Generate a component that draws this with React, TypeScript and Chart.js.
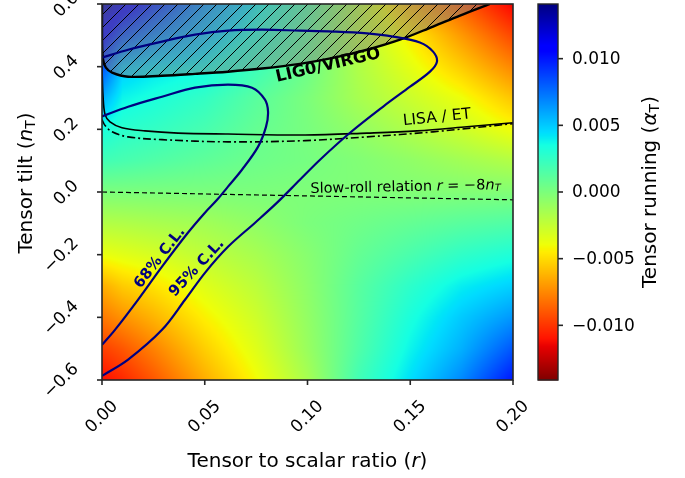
import React, { useEffect, useRef } from "react";
import { Chart, registerables } from "chart.js";

Chart.register(...registerables);

const FONT = "'DejaVu Sans', Verdana, sans-serif";

// ---- axes ----
const X_MIN = 0;
const X_MAX = 0.2;
const Y_MIN = -0.6;
const Y_MAX = 0.6;
const X_TICKS = [0, 0.05, 0.1, 0.15, 0.2];
const X_TICK_LABELS = ["0.00", "0.05", "0.10", "0.15", "0.20"];
const Y_TICKS = [-0.6, -0.4, -0.2, 0, 0.2, 0.4, 0.6];
const Y_TICK_LABELS = ["\u22120.6", "\u22120.4", "\u22120.2", "0.0", "0.2", "0.4", "0.6"];
const CB_MIN = -0.0141;
const CB_MAX = 0.0141;
const CB_TICKS = [-0.01, -0.005, 0, 0.005, 0.01];
const CB_TICK_LABELS = ["\u22120.010", "\u22120.005", "0.000", "0.005", "0.010"];

// ---- tensor running field on a grid ----
const GRID_R = [0, 0.01, 0.025, 0.05, 0.075, 0.1, 0.125, 0.15, 0.175, 0.2];
const GRID_NT = [0.6, 0.5, 0.4, 0.3, 0.2, 0.1, 0.0, -0.1, -0.2, -0.3, -0.4, -0.5, -0.6];
const ALPHA_NT_P06 = [0.013, 0.0115, 0.0095, 0.0065, 0.004, 0.0015, -0.0022, -0.0062, -0.0088, -0.0115];
const ALPHA_NT_P05 = [0.011, 0.0085, 0.007, 0.0052, 0.0032, 0.001, -0.0022, -0.0045, -0.007, -0.0095];
const ALPHA_NT_P04 = [0.0085, 0.005, 0.0043, 0.0037, 0.0022, 0.0005, -0.0018, -0.0036, -0.0055, -0.0076];
const ALPHA_NT_P03 = [0.0058, 0.0038, 0.0033, 0.0025, 0.0012, 0.0, -0.0015, -0.0027, -0.0039, -0.0057];
const ALPHA_NT_P02 = [0.0034, 0.0028, 0.0025, 0.0018, 0.0008, 0.0001, -0.0008, -0.0018, -0.0028, -0.004];
const ALPHA_NT_P01 = [0.002, 0.0018, 0.0015, 0.001, 0.0005, 0.0002, -0.0002, -0.0007, -0.0013, -0.0019];
const ALPHA_NT_000 = [0.0, 0.0, 0.0, 0.0, 0.0, -0.0001, -0.0001, -0.0002, -0.0002, -0.0002];
const ALPHA_NT_M01 = [-0.0019, -0.0018, -0.0016, -0.0013, -0.0007, 0.0, 0.0004, 0.0008, 0.0012, 0.0015];
const ALPHA_NT_M02 = [-0.0038, -0.0035, -0.0031, -0.0023, -0.0015, -0.0004, 0.0008, 0.0017, 0.0026, 0.0032];
const ALPHA_NT_M03 = [-0.0064, -0.0055, -0.0048, -0.0034, -0.0022, -0.0006, 0.0012, 0.0027, 0.004, 0.0048];
const ALPHA_NT_M04 = [-0.008, -0.0072, -0.0062, -0.0044, -0.0028, -0.0008, 0.0013, 0.0033, 0.005, 0.0064];
const ALPHA_NT_M05 = [-0.0097, -0.009, -0.0077, -0.0054, -0.0034, -0.001, 0.0015, 0.0038, 0.0057, 0.0082];
const ALPHA_NT_M06 = [-0.0112, -0.0104, -0.009, -0.0064, -0.0041, -0.0015, 0.002, 0.0044, 0.0068, 0.01];
const ALPHA_GRID = [
  ALPHA_NT_P06, ALPHA_NT_P05, ALPHA_NT_P04, ALPHA_NT_P03, ALPHA_NT_P02, ALPHA_NT_P01, ALPHA_NT_000,
  ALPHA_NT_M01, ALPHA_NT_M02, ALPHA_NT_M03, ALPHA_NT_M04, ALPHA_NT_M05, ALPHA_NT_M06,
];

// ---- curves ----
const LIGO_R = [0, 0, 0.0005, 0.0019, 0.0049, 0.0127, 0.0292, 0.0453, 0.0613, 0.0779, 0.0963, 0.1124, 0.129, 0.145, 0.1611, 0.1742, 0.1888];
const LIGO_NT = [0.6, 0.487, 0.423, 0.397, 0.381, 0.368, 0.371, 0.377, 0.384, 0.394, 0.409, 0.428, 0.454, 0.486, 0.528, 0.563, 0.6];

const LISA_R = [0, 0.0005, 0.0015, 0.0039, 0.0097, 0.0209, 0.037, 0.0613, 0.0988, 0.129, 0.1533, 0.1776, 0.2];
const LISA_NT = [0.4, 0.307, 0.247, 0.224, 0.205, 0.195, 0.188, 0.185, 0.182, 0.188, 0.195, 0.208, 0.221];

const ET_R = [0, 0.0015, 0.0049, 0.0127, 0.0292, 0.0613, 0.0988, 0.129, 0.1611, 0.2];
const ET_NT = [0.231, 0.212, 0.192, 0.176, 0.167, 0.16, 0.164, 0.176, 0.192, 0.218];

const SLOWROLL_R = [0, 0.2];
const SLOWROLL_NT = [0, -0.025];

const CL68_R = [0, 0.0127, 0.0292, 0.0453, 0.0613, 0.073, 0.0793, 0.0808, 0.0798, 0.0759, 0.0681, 0.0613, 0.056, 0.0501, 0.0418, 0.0292, 0.0175, 0.0063, 0];
const CL68_NT = [0.241, 0.272, 0.304, 0.333, 0.343, 0.333, 0.295, 0.256, 0.208, 0.144, 0.071, 0.017, -0.025, -0.066, -0.13, -0.238, -0.344, -0.44, -0.488];

const CL95_R = [0, 0.0127, 0.0292, 0.0404, 0.0501, 0.0613, 0.0745, 0.0852, 0.0963, 0.1061, 0.1207, 0.1367, 0.1499, 0.1596, 0.163, 0.1611, 0.1547, 0.1416, 0.129, 0.1124, 0.0963, 0.0779, 0.0613, 0.0453, 0.0292, 0.0127, 0];
const CL95_NT = [-0.587, -0.535, -0.44, -0.344, -0.258, -0.175, -0.098, -0.034, 0.039, 0.103, 0.189, 0.272, 0.336, 0.384, 0.416, 0.448, 0.477, 0.496, 0.506, 0.512, 0.515, 0.518, 0.515, 0.502, 0.48, 0.454, 0.429];

const NAVY = "#000080";

function pts(xs: number[], ys: number[]) {
  return xs.map((x, i) => ({ x, y: ys[i] }));
}

function lerp(x: number, xs: number[], ys: number[]) {
  if (x <= xs[0]) return ys[0];
  for (let i = 0; i < xs.length - 1; i++) {
    if (x <= xs[i + 1]) {
      const t = (x - xs[i]) / (xs[i + 1] - xs[i]);
      return ys[i] + t * (ys[i + 1] - ys[i]);
    }
  }
  return ys[ys.length - 1];
}

function jet(t: number): [number, number, number] {
  t = Math.max(0, Math.min(1, t));
  const r = lerp(t, [0, 0.35, 0.66, 0.89, 1], [0, 0, 1, 1, 0.5]);
  const g = lerp(t, [0, 0.125, 0.375, 0.64, 0.91, 1], [0, 0, 1, 1, 0, 0]);
  const b = lerp(t, [0, 0.11, 0.34, 0.65, 1], [0.5, 1, 1, 0, 0]);
  return [Math.round(r * 255), Math.round(g * 255), Math.round(b * 255)];
}

function colorFor(v: number) {
  return jet((CB_MAX - v) / (CB_MAX - CB_MIN));
}

function sampleGrid(r: number, nt: number) {
  let i = 0;
  while (i < GRID_R.length - 2 && r > GRID_R[i + 1]) i++;
  let j = 0;
  while (j < GRID_NT.length - 2 && nt < GRID_NT[j + 1]) j++;
  const tx = Math.max(0, Math.min(1, (r - GRID_R[i]) / (GRID_R[i + 1] - GRID_R[i])));
  const ty = Math.max(0, Math.min(1, (nt - GRID_NT[j]) / (GRID_NT[j + 1] - GRID_NT[j])));
  const a = ALPHA_GRID[j][i];
  const b = ALPHA_GRID[j][i + 1];
  const c = ALPHA_GRID[j + 1][i];
  const d = ALPHA_GRID[j + 1][i + 1];
  return a * (1 - tx) * (1 - ty) + b * tx * (1 - ty) + c * (1 - tx) * ty + d * tx * ty;
}

type Seg = { t: string; f: string; dy?: number };

function drawRich(ctx: CanvasRenderingContext2D, segs: Seg[], cx: number, cy: number, angleDeg: number, color: string) {
  ctx.save();
  ctx.translate(cx, cy);
  ctx.rotate((angleDeg * Math.PI) / 180);
  let w = 0;
  for (const s of segs) {
    ctx.font = s.f;
    w += ctx.measureText(s.t).width;
  }
  let x = -w / 2;
  ctx.textBaseline = "middle";
  ctx.textAlign = "left";
  ctx.fillStyle = color;
  for (const s of segs) {
    ctx.font = s.f;
    ctx.fillText(s.t, x, s.dy || 0);
    x += ctx.measureText(s.t).width;
  }
  ctx.restore();
}

const heatmapPlugin = {
  id: "heatmap",
  beforeDatasetsDraw(chart: any) {
    const { ctx, chartArea: a, scales } = chart;
    const xs = scales.x;
    const ys = scales.y;
    const w = Math.round(a.right - a.left);
    const h = Math.round(a.bottom - a.top);
    const off = document.createElement("canvas");
    off.width = w;
    off.height = h;
    const octx = off.getContext("2d")!;
    const img = octx.createImageData(w, h);
    for (let j = 0; j < h; j++) {
      const nt = ys.getValueForPixel(a.top + j + 0.5);
      for (let i = 0; i < w; i++) {
        const r = xs.getValueForPixel(a.left + i + 0.5);
        const [R, G, B] = colorFor(sampleGrid(r, nt));
        const k = (j * w + i) * 4;
        img.data[k] = R;
        img.data[k + 1] = G;
        img.data[k + 2] = B;
        img.data[k + 3] = 255;
      }
    }
    octx.putImageData(img, 0, 0);
    ctx.save();
    ctx.drawImage(off, a.left, a.top, a.right - a.left, a.bottom - a.top);
    ctx.restore();
  },
};

const CB_LEFT = 538;
const CB_WIDTH = 20;
const SPINE = "#262626";

const decorPlugin = {
  id: "decor",
  afterDatasetsDraw(chart: any) {
    const { ctx, chartArea: a, scales } = chart;
    const xs = scales.x;
    const ys = scales.y;
    const cb = scales.cb;

    // in-plot annotations
    const bold15 = `bold 15px ${FONT}`;
    drawRich(ctx, [{ t: "LIG0/VIRGO", f: `bold 16.5px ${FONT}` }], xs.getPixelForValue(0.11), ys.getPixelForValue(0.4035), -13, "#000");
    drawRich(ctx, [{ t: "LISA / ET", f: `15.5px ${FONT}` }], xs.getPixelForValue(0.163), ys.getPixelForValue(0.237), -6, "#000");
    drawRich(
      ctx,
      [
        { t: "Slow-roll relation ", f: `14.5px ${FONT}` },
        { t: "r", f: `italic 14.5px ${FONT}` },
        { t: " = \u22128", f: `14.5px ${FONT}` },
        { t: "n", f: `italic 14.5px ${FONT}` },
        { t: "T", f: `italic 10px ${FONT}`, dy: 3 },
      ],
      xs.getPixelForValue(0.1477),
      ys.getPixelForValue(0.015),
      -1.2,
      "#000"
    );
    drawRich(ctx, [{ t: "68% C.L.", f: bold15 }], xs.getPixelForValue(0.0282), ys.getPixelForValue(-0.21), -52, NAVY);
    drawRich(ctx, [{ t: "95% C.L.", f: bold15 }], xs.getPixelForValue(0.0462), ys.getPixelForValue(-0.242), -47, NAVY);

    // frame
    ctx.save();
    ctx.strokeStyle = SPINE;
    ctx.lineWidth = 1.6;
    ctx.strokeRect(a.left, a.top, a.right - a.left, a.bottom - a.top);

    // x ticks
    ctx.lineWidth = 1.6;
    const tickFont = `17px ${FONT}`;
    X_TICKS.forEach((v, i) => {
      const px = xs.getPixelForValue(v);
      ctx.beginPath();
      ctx.moveTo(px, a.bottom);
      ctx.lineTo(px, a.bottom + 5);
      ctx.stroke();
      drawRich(ctx, [{ t: X_TICK_LABELS[i], f: tickFont }], px, 417, -45, "#000");
    });
    // y ticks
    Y_TICKS.forEach((v, i) => {
      const py = ys.getPixelForValue(v);
      ctx.beginPath();
      ctx.moveTo(a.left, py);
      ctx.lineTo(a.left - 5, py);
      ctx.stroke();
      ctx.font = tickFont;
      const w = ctx.measureText(Y_TICK_LABELS[i]).width;
      const bw = (w + 14) * 0.7071;
      drawRich(ctx, [{ t: Y_TICK_LABELS[i], f: tickFont }], 81 - bw / 2, py + 1, -45, "#000");
    });

    // axis labels
    drawRich(
      ctx,
      [
        { t: "Tensor to scalar ratio (", f: `20px ${FONT}` },
        { t: "r", f: `italic 20px ${FONT}` },
        { t: ")", f: `20px ${FONT}` },
      ],
      (a.left + a.right) / 2,
      462,
      0,
      "#000"
    );
    drawRich(
      ctx,
      [
        { t: "Tensor tilt (", f: `20px ${FONT}` },
        { t: "n", f: `italic 20px ${FONT}` },
        { t: "T", f: `14px ${FONT}`, dy: 4 },
        { t: ")", f: `20px ${FONT}` },
      ],
      27,
      183,
      -90,
      "#000"
    );

    // colorbar
    const top = cb.top;
    const bottom = cb.bottom;
    for (let py = Math.floor(top); py < bottom; py++) {
      const v = cb.getValueForPixel(py + 0.5);
      const [R, G, B] = colorFor(v);
      ctx.fillStyle = `rgb(${R},${G},${B})`;
      ctx.fillRect(CB_LEFT, py, CB_WIDTH, 1.5);
    }
    ctx.strokeStyle = SPINE;
    ctx.lineWidth = 1.4;
    ctx.strokeRect(CB_LEFT, top, CB_WIDTH, bottom - top);
    ctx.lineWidth = 1.6;
    CB_TICKS.forEach((v, i) => {
      const py = cb.getPixelForValue(v);
      ctx.beginPath();
      ctx.moveTo(CB_LEFT + CB_WIDTH, py);
      ctx.lineTo(CB_LEFT + CB_WIDTH + 5, py);
      ctx.stroke();
      ctx.font = tickFont;
      ctx.fillStyle = "#000";
      ctx.textAlign = "left";
      ctx.textBaseline = "middle";
      ctx.fillText(CB_TICK_LABELS[i], CB_LEFT + CB_WIDTH + 14, py + 1);
    });
    drawRich(
      ctx,
      [
        { t: "Tensor running (", f: `20px ${FONT}` },
        { t: "\u03b1", f: `italic 20px ${FONT}` },
        { t: "T", f: `14px ${FONT}`, dy: 4 },
        { t: ")", f: `20px ${FONT}` },
      ],
      651,
      (top + bottom) / 2,
      -90,
      "#000"
    );
    ctx.restore();
  },
};

function makeHatch(): CanvasPattern | string {
  const s = 13;
  const pc = document.createElement("canvas");
  pc.width = s;
  pc.height = s;
  const p = pc.getContext("2d");
  if (!p) return "rgba(128,128,128,0.48)";
  p.fillStyle = "rgba(128,128,128,0.48)";
  p.fillRect(0, 0, s, s);
  p.strokeStyle = "#000";
  p.lineWidth = 1;
  p.beginPath();
  p.moveTo(0, s);
  p.lineTo(s, 0);
  p.moveTo(-2, 2);
  p.lineTo(2, -2);
  p.moveTo(s - 2, s + 2);
  p.lineTo(s + 2, s - 2);
  p.stroke();
  const pat = p.createPattern(pc, "repeat");
  return pat || "rgba(128,128,128,0.48)";
}

export default function App() {
  const ref = useRef<HTMLCanvasElement | null>(null);
  useEffect(() => {
    if (!ref.current) return;
    const hatch = makeHatch();
    const line = (data: any, color: string, width: number, extra: any = {}) => ({
      data,
      showLine: true,
      borderColor: color,
      borderWidth: width,
      pointRadius: 0,
      pointHoverRadius: 0,
      tension: 0.35,
      fill: false,
      ...extra,
    });
    const chart = new Chart(ref.current, {
      type: "scatter",
      data: {
        datasets: [
          line(pts(CL68_R, CL68_NT), NAVY, 2.2),
          line(pts(CL95_R, CL95_NT), NAVY, 2.2),
          line(pts(LIGO_R, LIGO_NT), "#000", 2.4, { fill: "end", backgroundColor: hatch }),
          line(pts(LISA_R, LISA_NT), "#000", 1.6),
          line(pts(ET_R, ET_NT), "#000", 1.6, { borderDash: [8, 3, 2, 3] }),
          line(pts(SLOWROLL_R, SLOWROLL_NT), "#000", 1.2, { borderDash: [5, 3], tension: 0 }),
        ],
      },
      options: {
        animation: false,
        responsive: false,
        events: [],
        layout: { padding: { left: 102, top: 4, right: 172, bottom: 98 } },
        scales: {
          x: { type: "linear", min: X_MIN, max: X_MAX, display: false },
          y: { type: "linear", min: Y_MIN, max: Y_MAX, display: false },
          cb: { type: "linear", axis: "y", position: "right", min: CB_MIN, max: CB_MAX, display: false },
        },
        plugins: { legend: { display: false }, tooltip: { enabled: false } },
      } as any,
      plugins: [heatmapPlugin, decorPlugin],
    });
    return () => chart.destroy();
  }, []);
  return (
    <div style={{ position: "absolute", left: 0, top: 0, width: 685, height: 478, background: "#fff" }}>
      <canvas ref={ref} width={685} height={478} style={{ display: "block" }} />
    </div>
  );
}
